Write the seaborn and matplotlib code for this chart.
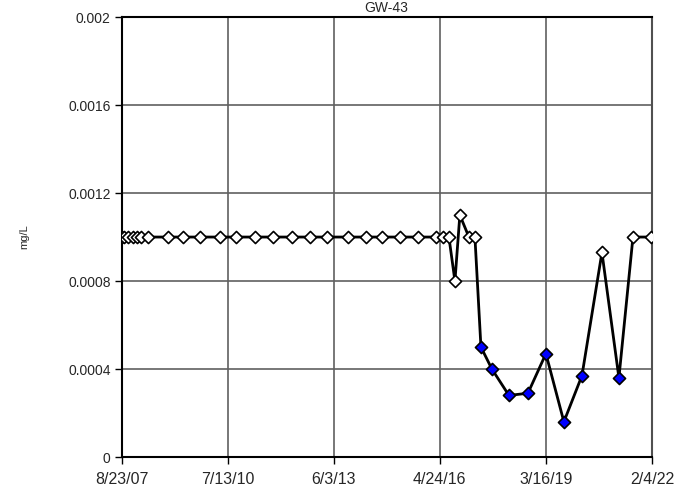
# Recreation of a groundwater sampling chart (mg/L over time) with seaborn.
import pandas as pd
import matplotlib.pyplot as plt
import seaborn as sns

# --- data ---
sample_dates = [
    "2007-08-23", "2007-09-12", "2007-10-22", "2007-12-11", "2008-01-19",
    "2008-02-28", "2008-05-08", "2008-11-23", "2009-04-22", "2009-10-08",
    "2010-04-25", "2010-10-01", "2011-04-09", "2011-10-05", "2012-04-11",
    "2012-10-07", "2013-03-26", "2013-10-21", "2014-04-18", "2014-09-25",
    "2015-03-23", "2015-09-18", "2016-03-15", "2016-05-24", "2016-07-23",
    "2016-09-21", "2016-11-09", "2017-02-07", "2017-04-08", "2017-06-07",
    "2017-09-24", "2018-03-13", "2018-09-18", "2019-03-16", "2019-09-11",
    "2020-03-09", "2020-09-24", "2021-03-12", "2021-07-30", "2022-01-28",
]
values = [
    0.001, 0.001, 0.001, 0.001, 0.001,
    0.001, 0.001, 0.001, 0.001, 0.001,
    0.001, 0.001, 0.001, 0.001, 0.001,
    0.001, 0.001, 0.001, 0.001, 0.001,
    0.001, 0.001, 0.001, 0.001, 0.001,
    0.0008, 0.0011, 0.001, 0.001, 0.0005,
    0.0004, 0.00028, 0.00029, 0.00047, 0.00016,
    0.00037, 0.00093, 0.00036, 0.001, 0.001,
]
# True = detected (blue marker), False = non-detect (open marker)
detected = [False] * 29 + [True, True, True, True, True, True, True, False, True, False, False]

tick_dates = ["2007-08-23", "2010-07-13", "2013-06-03", "2016-04-24", "2019-03-16", "2022-02-04"]
tick_labels = ["8/23/07", "7/13/10", "6/3/13", "4/24/16", "3/16/19", "2/4/22"]
y_ticks = [0, 0.0004, 0.0008, 0.0012, 0.0016, 0.002]
y_labels = ["0", "0.0004", "0.0008", "0.0012", "0.0016", "0.002"]

df = pd.DataFrame({"date": pd.to_datetime(sample_dates), "value": values, "detected": detected})

# --- plot ---
sns.set_style("white")
plt.rcParams["font.family"] = ["Liberation Sans", "DejaVu Sans"]

fig = plt.figure(figsize=(6.77, 4.88), dpi=100)
ax = fig.add_axes([0.180, 0.0635, 0.783, 0.9015])

sns.lineplot(data=df, x="date", y="value", ax=ax, color="black", linewidth=2, zorder=3)
sns.scatterplot(data=df[~df["detected"]], x="date", y="value", ax=ax, marker="D", s=38,
                color="white", edgecolor="black", linewidth=1.2, zorder=4)
sns.scatterplot(data=df[df["detected"]], x="date", y="value", ax=ax, marker="D", s=38,
                color="#0000FF", edgecolor="black", linewidth=1.2, zorder=5)

ax.set_xlim(pd.Timestamp("2007-08-23"), pd.Timestamp("2022-02-04"))
ax.set_ylim(0, 0.002)
ax.set_xticks(pd.to_datetime(tick_dates))
ax.set_xticklabels(tick_labels, fontsize=11.5)
ax.set_yticks(y_ticks)
ax.set_yticklabels(y_labels, fontsize=10)

ax.grid(True, color="#606060", linewidth=1.2)
ax.set_axisbelow(True)
for side in ["left", "bottom", "top"]:
    ax.spines[side].set_color("black")
    ax.spines[side].set_linewidth(1.5)
ax.spines["right"].set_color("#505050")
ax.spines["right"].set_linewidth(1.5)

ax.tick_params(axis="both", direction="out", length=5, width=1, color="black",
               bottom=True, left=True)
ax.tick_params(axis="x", pad=6)
ax.tick_params(axis="y", pad=3)
ax.set_xlabel("")
ax.set_ylabel("mg/L", fontsize=8, labelpad=28)

# title sits right at the top edge, as in the reference
fig.text(0.57, 0.998, "GW-43", ha="center", va="top", fontsize=10)

fig.savefig("out.png", dpi=100)
